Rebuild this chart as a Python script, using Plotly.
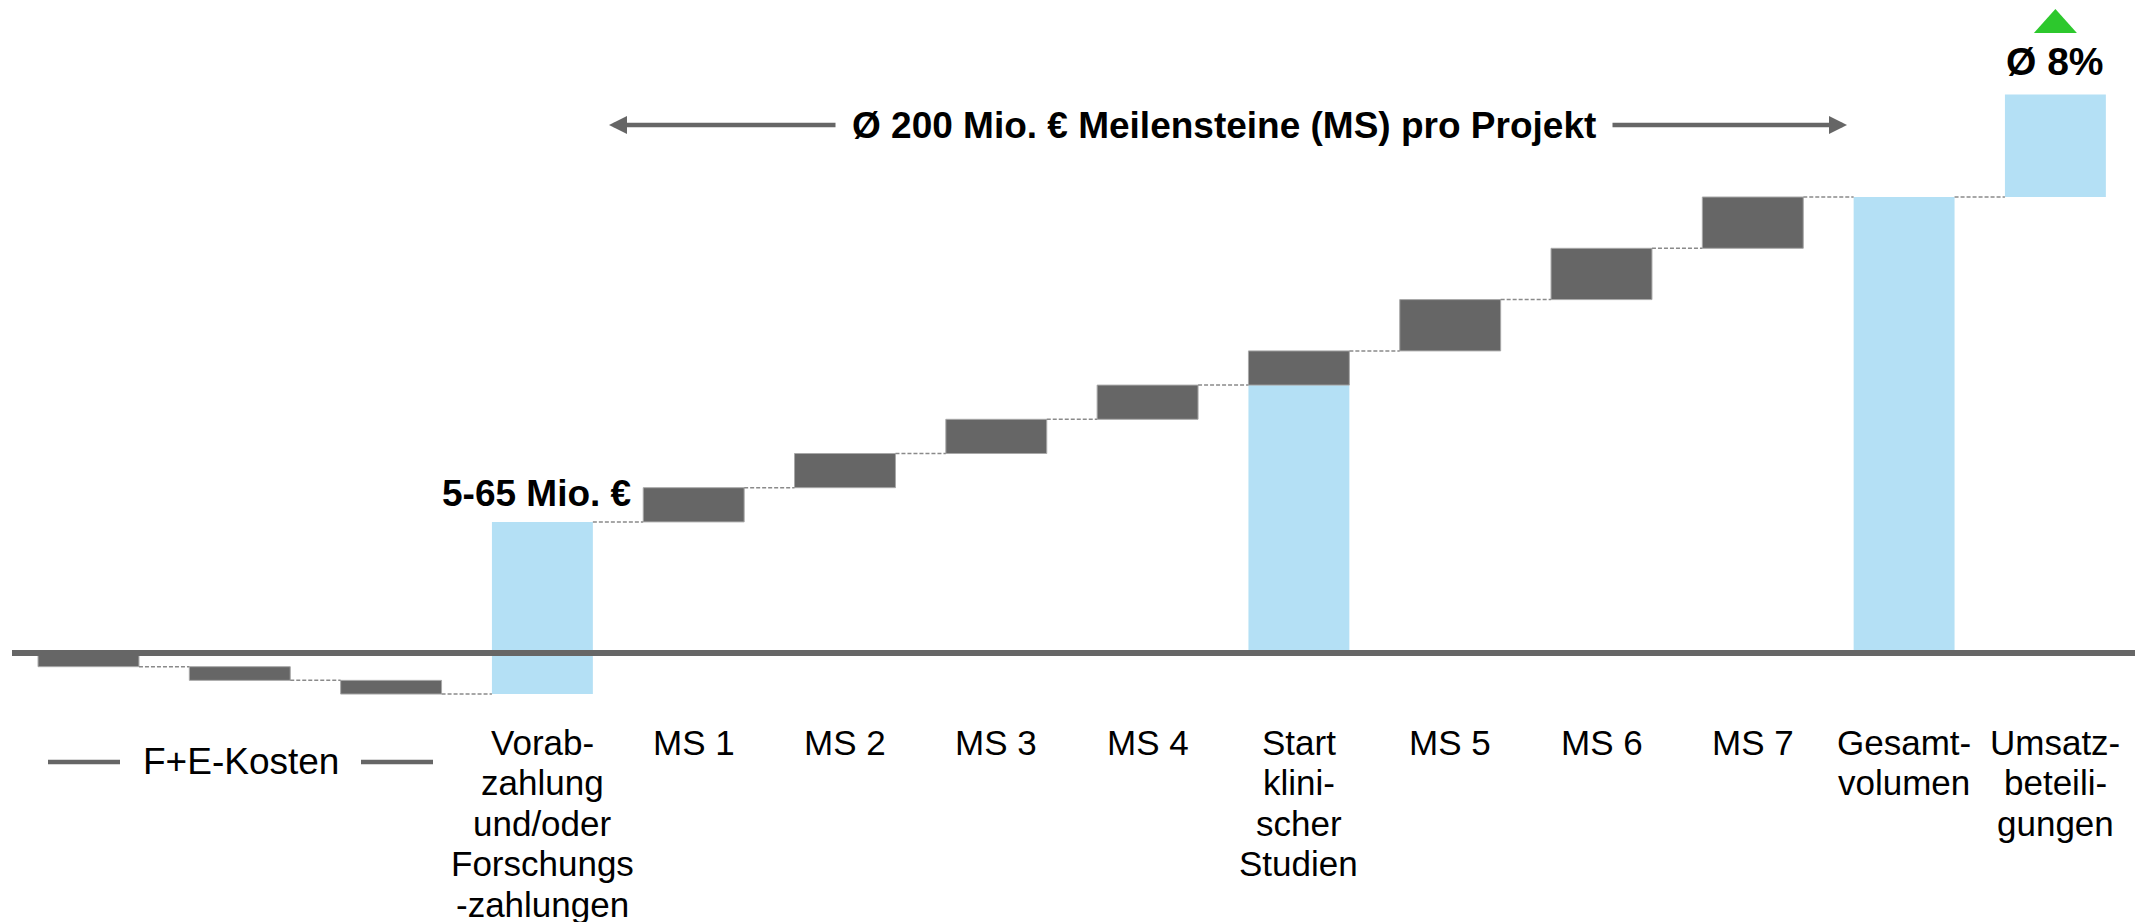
import plotly.graph_objects as go

# ---------------- data (Mio. €, illustrative deal structure) ----------------
positions = list(range(14))
rd_costs = [-6, -6, -6]                 # F+E-Kosten (three steps)
upfront_payment = 75.5                  # Vorabzahlung (offsets costs, ends at 57.5)
milestones_pre = [15, 15, 15, 15]       # MS 1 - MS 4
clinical_start = 15                     # Start klinischer Studien (step)
milestones_post = [22.5, 22.5, 22.5]    # MS 5 - MS 7
royalties = 45                          # Umsatzbeteiligungen

label_lines = [
    [], [], [],
    ["Vorab-", "zahlung", "und/oder", "Forschungs", "-zahlungen"],
    ["MS 1"], ["MS 2"], ["MS 3"], ["MS 4"],
    ["Start", "klini-", "scher", "Studien"],
    ["MS 5"], ["MS 6"], ["MS 7"],
    ["Gesamt-", "volumen"],
    ["Umsatz-", "beteili-", "gungen"],
]
fe_label = "F+E-Kosten"
upfront_label = "5-65 Mio. €"
ms_label = "Ø 200 Mio. € Meilensteine (MS) pro Projekt"
royalty_label = "Ø 8%"

# ---------------- build waterfall geometry ----------------
DARK = "#666666"
BLUE = "#B4E0F5"
FONT = "Arial, 'Liberation Sans', sans-serif"
BAR_W = 0.667

dark_x, dark_base, dark_y = [], [], []
blue_x, blue_base, blue_y = [], [], []
levels = []
cum = 0.0
idx = 0
for c in rd_costs:
    dark_x.append(idx); dark_base.append(cum); dark_y.append(c)
    cum += c; levels.append(cum); idx += 1
blue_x.append(idx); blue_base.append(cum); blue_y.append(upfront_payment)
cum += upfront_payment; levels.append(cum); idx += 1
for m in milestones_pre:
    dark_x.append(idx); dark_base.append(cum); dark_y.append(m)
    cum += m; levels.append(cum); idx += 1
blue_x.append(idx); blue_base.append(0); blue_y.append(cum)
dark_x.append(idx); dark_base.append(cum); dark_y.append(clinical_start)
cum += clinical_start; levels.append(cum); idx += 1
for m in milestones_post:
    dark_x.append(idx); dark_base.append(cum); dark_y.append(m)
    cum += m; levels.append(cum); idx += 1
blue_x.append(idx); blue_base.append(0); blue_y.append(cum)
levels.append(cum); idx += 1
blue_x.append(idx); blue_base.append(cum); blue_y.append(royalties)

fig = go.Figure()
fig.add_trace(go.Bar(x=blue_x, y=blue_y, base=blue_base, width=BAR_W,
                     marker=dict(color=BLUE, line=dict(width=0)), hoverinfo="skip"))
fig.add_trace(go.Bar(x=dark_x, y=dark_y, base=dark_base, width=BAR_W,
                     marker=dict(color=DARK, line=dict(color="#A8A8A8", width=1)),
                     hoverinfo="skip"))

# dashed connectors
cx, cy = [], []
for i, lv in enumerate(levels):
    cx += [positions[i] + BAR_W / 2, positions[i + 1] - BAR_W / 2, None]
    cy += [lv, lv, None]
fig.add_trace(go.Scatter(x=cx, y=cy, mode="lines",
                         line=dict(color="#8A8A8A", width=1.5, dash="4px,2px"),
                         hoverinfo="skip"))

W, H = 2143, 922
OFF = 8                     # page body margin
PX_PER_CAT = 151.3
PX_PER_UNIT = 2.28
x0_page, zero_page = 88.5, 653
XR = [-(x0_page - OFF) / PX_PER_CAT, -(x0_page - OFF) / PX_PER_CAT + W / PX_PER_CAT]
YR = [-(H - (zero_page - OFF)) / PX_PER_UNIT, (zero_page - OFF) / PX_PER_UNIT]

def px2x(px):
    return XR[0] + (px - OFF) / PX_PER_CAT

def py2p(py):
    return 1 - (py - OFF) / H

shapes = []
# baseline
shapes.append(dict(type="line", xref="x", yref="y", x0=px2x(12), x1=XR[1], y0=0, y1=0,
                   line=dict(color=DARK, width=6), layer="above"))
# F+E bracket lines
for a, b in [(48, 120), (361, 433)]:
    shapes.append(dict(type="line", xref="x", yref="paper", x0=px2x(a), x1=px2x(b),
                       y0=py2p(762), y1=py2p(762), line=dict(color=DARK, width=4.5)))
# green triangle
tx = positions[13]
hw = 21.5 / PX_PER_CAT
shapes.append(dict(type="path", xref="x", yref="paper",
                   path=f"M {tx - hw},{py2p(33)} L {tx},{py2p(9)} L {tx + hw},{py2p(33)} Z",
                   fillcolor="#2DC82D", line=dict(width=0)))

ann = []
# category labels, one annotation per line
LINE_SP = 40.5
for i, lines in enumerate(label_lines):
    for k, t in enumerate(lines):
        ann.append(dict(x=positions[i], y=py2p(742 + k * LINE_SP), xref="x", yref="paper",
                        text=t, showarrow=False, xanchor="center", yanchor="middle",
                        font=dict(family=FONT, size=35, color="black")))
ann.append(dict(x=px2x(240.5), y=py2p(761), xref="x", yref="paper", text=fe_label,
                showarrow=False, xanchor="center", yanchor="middle",
                font=dict(family=FONT, size=37, color="black")))
# arrows
for head, tail in [(609, 837), (1847, 1611)]:
    ann.append(dict(x=px2x(head), y=py2p(125), xref="x", yref="paper",
                    ax=px2x(tail), ay=0, axref="x", ayref="pixel", text="",
                    showarrow=True, arrowhead=2, arrowsize=0.8, arrowwidth=4.5,
                    arrowcolor=DARK, standoff=0, startstandoff=0))
ann.append(dict(x=px2x(1224), y=py2p(126), xref="x", yref="paper", text=f"<b>{ms_label}</b>",
                showarrow=False, xanchor="center", yanchor="middle",
                font=dict(family=FONT, size=37, color="black")))
ann.append(dict(x=px2x(633), y=py2p(493), xref="x", yref="paper", text=f"<b>{upfront_label}</b>",
                showarrow=False, xanchor="right", yanchor="middle",
                font=dict(family=FONT, size=37, color="black")))
ann.append(dict(x=positions[13], y=py2p(62), xref="x", yref="paper", text=f"<b>{royalty_label}</b>",
                showarrow=False, xanchor="center", yanchor="middle",
                font=dict(family=FONT, size=39, color="black")))

fig.update_layout(
    width=W, height=H, autosize=False,
    margin=dict(l=0, r=0, t=0, b=0),
    paper_bgcolor="white", plot_bgcolor="white",
    barmode="overlay", showlegend=False,
    xaxis=dict(range=XR, visible=False, fixedrange=True),
    yaxis=dict(range=YR, visible=False, fixedrange=True),
    shapes=shapes, annotations=ann,
)
fig.write_html("out.html")
